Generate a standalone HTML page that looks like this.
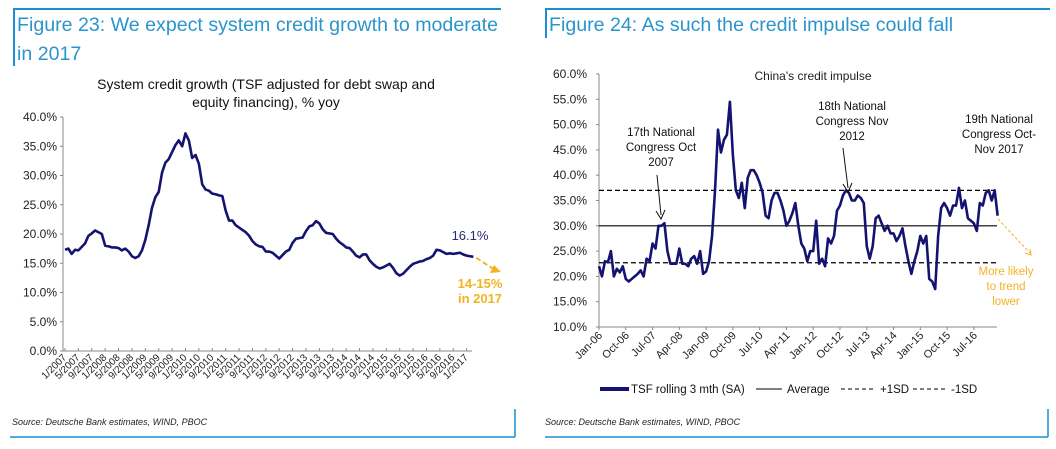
<!DOCTYPE html>
<html><head><meta charset="utf-8">
<style>
body{margin:0;background:#fff;width:1056px;height:449px;overflow:hidden;font-family:"Liberation Sans",sans-serif}
svg{position:absolute;left:0;top:0}
</style></head>
<body>
<svg width="1056" height="449" xmlns="http://www.w3.org/2000/svg">
<g id="frames">
<line x1="13" y1="9" x2="501" y2="9" stroke="#1b8fcf" stroke-width="2"/>
<line x1="14" y1="9" x2="14" y2="66" stroke="#1b8fcf" stroke-width="2"/>
<line x1="545" y1="9" x2="1050" y2="9" stroke="#1b8fcf" stroke-width="2"/>
<line x1="546" y1="9" x2="546" y2="38" stroke="#1b8fcf" stroke-width="2"/>
<line x1="10" y1="437" x2="515" y2="437" stroke="#1b8fcf" stroke-width="1.5"/>
<line x1="515" y1="409" x2="515" y2="437" stroke="#1b8fcf" stroke-width="1.5"/>
<line x1="545" y1="437" x2="1048" y2="437" stroke="#1b8fcf" stroke-width="1.5"/>
<line x1="1048" y1="409" x2="1048" y2="437" stroke="#1b8fcf" stroke-width="1.5"/>
</g>
<text x="17" y="31" font-size="19.6" fill="#2a95cc">Figure 23: We expect system credit growth to moderate</text>
<text x="17" y="60" font-size="19.6" fill="#2a95cc">in 2017</text>
<text x="549" y="31" font-size="19.6" fill="#2a95cc">Figure 24: As such the credit impulse could fall</text>
<text x="266" y="89" font-size="14" text-anchor="middle" fill="#111">System credit growth (TSF adjusted for debt swap and</text>
<text x="266" y="107" font-size="14" text-anchor="middle" fill="#111">equity financing), % yoy</text>
<text x="813" y="80" font-size="12" text-anchor="middle" fill="#222">China's credit impulse</text>
<text x="12" y="425" font-size="9" font-style="italic" fill="#222">Source: Deutsche Bank estimates, WIND, PBOC</text>
<text x="545" y="425" font-size="9" font-style="italic" fill="#222">Source: Deutsche Bank estimates, WIND, PBOC</text>
<g id="left"></g>
<g id="right"></g>
</svg>
<script>
const leftTicks=[0,5,10,15,20,25,30,35,40];
const leftLabels=["1/2007","5/2007","9/2007","1/2008","5/2008","9/2008","1/2009","5/2009","9/2009","1/2010","5/2010","9/2010","1/2011","5/2011","9/2011","1/2012","5/2012","9/2012","1/2013","5/2013","9/2013","1/2014","5/2014","9/2014","1/2015","5/2015","9/2015","1/2016","5/2016","9/2016","1/2017"];
const leftValues=[17.3,17.5,16.6,17.3,17.2,17.8,18.4,19.7,20.1,20.6,20.3,20,18,17.9,17.7,17.7,17.6,17.2,17.5,17,16.2,15.9,16.2,17.2,19,21.5,24.5,26.3,27.2,30.5,32.2,32.8,34,35.2,36,35,37.2,36,33,33.5,32,28.5,27.6,27.4,26.9,26.8,26.6,26.5,24,22.3,22.3,21.5,21.1,20.7,20.3,19.7,18.8,18.2,17.9,17.8,17,17,16.8,16.3,15.8,16.4,17,17.3,18.5,19.2,19.3,19.4,20.5,21.3,21.5,22.2,21.8,20.8,20.2,20.1,20,19.2,18.6,18.2,17.7,17.6,17,16.3,16,16.5,16.5,15.5,14.9,14.4,14.1,14.3,14.6,14.9,14.2,13.3,12.9,13.2,13.8,14.4,14.9,15.1,15.3,15.4,15.7,15.9,16.3,17.3,17.2,16.9,16.6,16.7,16.6,16.7,16.8,16.5,16.3,16.2,16.1];
const rightTicks=[10,15,20,25,30,35,40,45,50,55,60];
const rightLabels=["Jan-06","Oct-06","Jul-07","Apr-08","Jan-09","Oct-09","Jul-10","Apr-11","Jan-12","Oct-12","Jul-13","Apr-14","Jan-15","Oct-15","Jul-16"];
const rightValues=[22,20,23,22.8,25,20,21.5,20.8,22,19.5,19,19.5,20,20.5,21.2,20,23.5,23,26.5,25.5,30,30,30.5,25,22.5,22.5,22.5,25.5,22.5,22.5,22,23.5,24,22.5,25,20.5,21,23,28,37,49,44.5,47,48,54.5,44,37,35.5,38.5,33.5,39.5,41,41,40,38.5,36.5,32,31.5,35,36.5,36.5,35,33,30,31,32.5,34.5,30,26.5,25.5,23,25,25,31,22.5,23.5,22,27.5,26.5,28,33,34,36,37,36.5,35,35,36,35.5,34.5,26,23.5,26,31.5,32,30.5,29,30,28.5,28.5,27,28,29.5,26,23,20.5,23,25,28,26.5,28,19.5,19,17.5,28,33.5,34.5,33.5,32,34,34,37.5,33.5,35,31.5,31,30.5,29,34.5,34,36.5,37,35,37,32];
const rightAverage=[30];
const rightPlusSD=[37];
const rightMinusSD=[22.7];
const NS="http://www.w3.org/2000/svg";
function mk(p,t,a){const e=document.createElementNS(NS,t);for(const k in a)e.setAttribute(k,a[k]);p.appendChild(e);return e;}

// LEFT
const L=document.getElementById('left');
const lx=m=>65+m*3.347, ly=v=>351-v*(234/40);
mk(L,'line',{x1:63,y1:117,x2:63,y2:351,stroke:'#888','stroke-width':1});
mk(L,'line',{x1:63,y1:351,x2:472,y2:351,stroke:'#888','stroke-width':1});
leftTicks.forEach(v=>{
 const t=mk(L,'text',{x:57,y:ly(v)+4,'font-size':12,'text-anchor':'end',fill:'#222'});
 t.textContent=v.toFixed(1)+'%';
 
 
 mk(L,'line',{x1:60,y1:ly(v),x2:63,y2:ly(v),stroke:'#888'});
});
leftLabels.forEach((s,i)=>{
 const x=lx(i*4);
 mk(L,'line',{x1:x,y1:348,x2:x,y2:351,stroke:'#888'});
 const t=mk(L,'text',{x:x+2,y:358,'font-size':10,'text-anchor':'end',fill:'#222',transform:`rotate(-45 ${x+2} 358)`});
 t.textContent=s;
 
 
});
const lp=mk(L,'polyline',{points:leftValues.map((v,i)=>lx(i)+','+ly(v)).join(' '),fill:'none',stroke:'#141470','stroke-width':2.6,'stroke-linejoin':'round'});


const lastX=lx(leftValues.length-1), lastY=ly(leftValues[leftValues.length-1]);
const lt=mk(L,'text',{x:470,y:240,'font-size':13,'text-anchor':'middle',fill:'#2a2a7a'});
lt.textContent=leftValues[leftValues.length-1].toFixed(1)+'%';


mk(L,'line',{x1:lastX+3,y1:lastY+1,x2:495,y2:270,stroke:'#f2b324','stroke-width':2,'stroke-dasharray':'5,3'});
mk(L,'path',{d:'M501 272 L490 273 L494 265 Z',fill:'#f2b324'});
const f1=mk(L,'text',{x:480,y:288,'font-size':13,'font-weight':'bold','text-anchor':'middle',fill:'#f2b324'});
f1.textContent='14-15%';


const f2=mk(L,'text',{x:480,y:303,'font-size':13,'font-weight':'bold','text-anchor':'middle',fill:'#f2b324'});
f2.textContent='in 2017';



// RIGHT
const R=document.getElementById('right');
const rx=m=>599+m*2.975, ry=v=>327-(v-10)*(253/50);
mk(R,'line',{x1:599,y1:74,x2:599,y2:327,stroke:'#888'});
mk(R,'line',{x1:599,y1:327,x2:997,y2:327,stroke:'#888'});
rightTicks.forEach(v=>{
 const t=mk(R,'text',{x:587,y:ry(v)+4,'font-size':12,'text-anchor':'end',fill:'#222'});
 t.textContent=v.toFixed(1)+'%';
 
 
 mk(R,'line',{x1:596,y1:ry(v),x2:599,y2:ry(v),stroke:'#888'});
});
rightLabels.forEach((s,i)=>{
 const x=rx(i*9);
 mk(R,'line',{x1:x,y1:327,x2:x,y2:330,stroke:'#888'});
 const t=mk(R,'text',{x:x+4,y:336,'font-size':11,'text-anchor':'end',fill:'#222',transform:`rotate(-45 ${x+4} 336)`});
 t.textContent=s;
 
 
});
const avg=mk(R,'line',{x1:599,y1:ry(rightAverage[0]),x2:997,y2:ry(rightAverage[0]),stroke:'#000','stroke-width':1.2});


const ps=mk(R,'line',{x1:599,y1:ry(rightPlusSD[0]),x2:997,y2:ry(rightPlusSD[0]),stroke:'#000','stroke-width':1.2,'stroke-dasharray':'5,3'});


const ms=mk(R,'line',{x1:599,y1:ry(rightMinusSD[0]),x2:997,y2:ry(rightMinusSD[0]),stroke:'#000','stroke-width':1.2,'stroke-dasharray':'5,3'});


const rp=mk(R,'polyline',{points:rightValues.map((v,i)=>rx(i)+','+ry(v)).join(' '),fill:'none',stroke:'#141470','stroke-width':2.6,'stroke-linejoin':'round'});


function note(lines,cx,y0,name){lines.forEach((s,i)=>{const t=mk(R,'text',{x:cx,y:y0+i*15,'font-size':11.5,'text-anchor':'middle',fill:'#111'});t.textContent=s;
 
 });}
note(['17th National','Congress Oct','2007'],661,136,'annotation-17th-congress');
note(['18th National','Congress Nov','2012'],852,110,'annotation-18th-congress');
note(['19th National','Congress Oct-','Nov 2017'],999,123,'annotation-19th-congress');
mk(R,'line',{x1:657,y1:175,x2:661,y2:215,stroke:'#111'});
mk(R,'path',{d:'M656 211 L661 219 L665 210',fill:'none',stroke:'#111'});
mk(R,'line',{x1:843,y1:148,x2:848,y2:188,stroke:'#111'});
mk(R,'path',{d:'M843 184 L848 192 L852 183',fill:'none',stroke:'#111'});
mk(R,'line',{x1:998,y1:219,x2:1030,y2:253,stroke:'#f2b324','stroke-width':1,'stroke-dasharray':'3,2'});
mk(R,'path',{d:'M1025 253 L1031 255 L1030 249',fill:'none',stroke:'#f2b324'});
['More likely','to trend','lower'].forEach((s,i)=>{const t=mk(R,'text',{x:1006,y:275+i*15,'font-size':11.5,'text-anchor':'middle',fill:'#f2b324'});t.textContent=s;
 
 });
// legend
mk(R,'line',{x1:600,y1:389,x2:629,y2:389,stroke:'#141470','stroke-width':4});
mk(R,'line',{x1:756,y1:389,x2:782,y2:389,stroke:'#000'});
mk(R,'line',{x1:841,y1:389,x2:876,y2:389,stroke:'#000','stroke-dasharray':'4,3'});
mk(R,'line',{x1:913,y1:389,x2:947,y2:389,stroke:'#000','stroke-dasharray':'4,3'});
[['TSF rolling 3 mth (SA)',631,'legend-tsf'],['Average',787,'legend-average'],['+1SD',880,'legend-plus-1sd'],['-1SD',951,'legend-minus-1sd']].forEach(a=>{
 const t=mk(R,'text',{x:a[1],y:393,'font-size':11.5,fill:'#111'});t.textContent=a[0];
 
 
});
</script>
</body></html>
